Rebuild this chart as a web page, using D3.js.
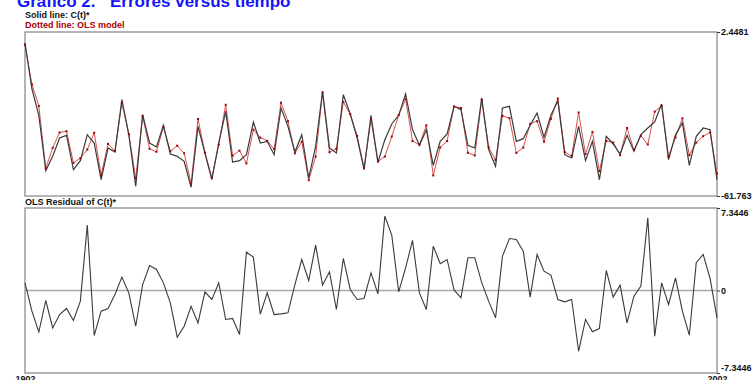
<!DOCTYPE html>
<html>
<head>
<meta charset="utf-8">
<script src="https://cdn.jsdelivr.net/npm/d3@7"></script>
<style>
  body { margin: 0; background: #fff; }
  text { font-family: "Liberation Sans", Arial, sans-serif; }
</style>
</head>
<body>
<div id="chart"></div>
<script>
// years on the x axis
var years = d3.range(1902, 2003);
var yearTicks = [1902, 2002];

// C(t)* (solid line)
var cSeries = [
  -1.86, -19.87, -30.18, -51.84, -46.23, -39.05, -38.01, -51.45, -47.92, -37.75,
  -41.01, -55.36, -42.97, -44.53, -24.04, -37.75, -57.97, -29.92, -41.01, -42.57,
  -34.09, -45.32, -46.23, -48.19, -58.36, -34.48, -44.92, -55.36, -41.01, -28.61,
  -48.45, -47.92, -45.58, -32.79, -41.01, -40.36, -45.58, -27.31, -34.48, -44.53,
  -37.75, -54.71, -42.31, -20.78, -42.97, -44.92, -22.09, -29.66, -39.05, -51.45,
  -30.18, -48.58, -39.70, -33.57, -30.18, -21.83, -35.79, -41.92, -35.79, -49.75,
  -40.36, -37.49, -26.65, -27.96, -41.92, -42.97, -23.39, -43.62, -50.14, -27.31,
  -26.65, -40.36, -39.31, -34.09, -29.26, -38.79, -30.18, -24.43, -45.58, -46.88,
  -34.48, -47.92, -40.36, -55.36, -38.40, -41.40, -45.32, -38.01, -44.27, -37.75,
  -35.14, -32.79, -25.74, -47.53, -37.75, -33.18, -49.75, -38.40, -35.14, -35.79,
  -55.36
];

// OLS model (dotted line)
var olsSeries = [
  -2.54, -18.03, -26.50, -50.95, -42.90, -36.91, -36.41, -48.78, -46.97, -43.57,
  -37.00, -53.52, -41.37, -44.17, -25.23, -37.54, -54.79, -30.45, -43.24, -44.44,
  -34.77, -44.22, -42.07, -45.01, -56.96, -31.60, -44.80, -54.56, -41.69, -26.03,
  -45.96, -44.00, -49.00, -35.76, -38.91, -40.15, -43.44, -25.23, -32.49, -45.06,
  -40.51, -55.60, -46.35, -21.26, -44.63, -43.23, -24.94, -29.75, -38.25, -50.74,
  -31.75, -48.28, -46.32, -38.50, -30.06, -23.85, -40.25, -41.71, -34.10, -53.70,
  -42.74, -40.25, -26.70, -27.31, -44.83, -45.88, -24.09, -42.67, -47.70, -30.37,
  -31.28, -44.90, -42.81, -33.50, -32.47, -40.51, -31.55, -23.63, -44.57, -46.08,
  -29.07, -45.34, -36.68, -51.97, -40.18, -40.81, -45.80, -35.13, -43.77, -38.14,
  -41.61, -28.72, -26.42, -46.28, -38.88, -31.34, -45.77, -40.87, -38.35, -36.86,
  -52.92
];

// OLS residual of C(t)*
var residSeries = [
  0.68, -1.84, -3.68, -0.89, -3.33, -2.14, -1.60, -2.67, -0.95, 5.82,
  -4.01, -1.84, -1.60, -0.36, 1.19, -0.21, -3.18, 0.53, 2.23, 1.87,
  0.68, -1.10, -4.16, -3.18, -1.40, -2.88, -0.12, -0.80, 0.68, -2.58,
  -2.49, -3.92, 3.42, 2.97, -2.10, -0.21, -2.14, -2.08, -1.99, 0.53,
  2.76, 0.89, 4.04, 0.48, 1.66, -1.69, 2.85, 0.09, -0.80, -0.71,
  1.57, -0.30, 6.62, 4.93, -0.12, 2.02, 4.46, -0.21, -1.69, 3.95,
  2.38, 2.76, 0.05, -0.65, 2.91, 2.91, 0.70, -0.95, -2.44, 3.06,
  4.63, 4.54, 3.50, -0.59, 3.21, 1.72, 1.37, -0.80, -1.01, -0.80,
  -5.41, -2.58, -3.68, -3.39, 1.78, -0.59, 0.48, -2.88, -0.50, 0.39,
  6.47, -4.07, 0.68, -1.25, 1.13, -1.84, -3.98, 2.47, 3.21, 1.07,
  -2.44
];

// axis tick values shown on the right
var topTicks = [2.4481, -61.7635];
var bottomTicks = [7.3446, 0, -7.3446];

var width = 752, height = 380;
var left = 25, right = 717;

var svg = d3.select("#chart").append("svg")
  .attr("width", width)
  .attr("height", height);

var x = d3.scaleLinear().domain([1902, 2002]).range([left, right]);
var yTop = d3.scaleLinear().domain([-61.7635, 2.4481]).range([196, 32]);
var yBot = d3.scaleLinear().domain([-7.3446, 7.3446]).range([373, 208]);

// title (cut off at the top like the original)
var title = svg.append("text")
  .attr("y", 7)
  .attr("fill", "#1414ff")
  .style("font-size", "17px")
  .style("font-weight", "bold");
title.append("tspan").attr("x", 17).text("Gráfico 2.");
title.append("tspan").attr("x", 110).text("Errores versus tiempo");

svg.append("text")
  .attr("x", 25).attr("y", 18)
  .style("font-size", "9px").style("font-weight", "bold")
  .attr("fill", "#111")
  .text("Solid line: C(t)*");
svg.append("text")
  .attr("x", 25).attr("y", 28)
  .style("font-size", "9px").style("font-weight", "bold")
  .attr("fill", "#a80000")
  .text("Dotted line: OLS model");
svg.append("text")
  .attr("x", 25).attr("y", 205)
  .style("font-size", "9px").style("font-weight", "bold")
  .attr("fill", "#111")
  .text("OLS Residual of C(t)*");

// frames
svg.append("rect")
  .attr("x", left).attr("y", yTop.range()[1])
  .attr("width", right - left).attr("height", yTop.range()[0] - yTop.range()[1])
  .attr("fill", "none").attr("stroke", "#9c9c9c").attr("stroke-width", 1.5);
svg.append("rect")
  .attr("x", left).attr("y", yBot.range()[1])
  .attr("width", right - left).attr("height", yBot.range()[0] - yBot.range()[1])
  .attr("fill", "none").attr("stroke", "#9c9c9c").attr("stroke-width", 1.5);

// zero line in residual panel
svg.append("line")
  .attr("x1", left).attr("x2", right)
  .attr("y1", yBot(0)).attr("y2", yBot(0))
  .attr("stroke", "#a8a8a8").attr("stroke-width", 1.5);

// right axes
function styleAxis(g) {
  g.select(".domain").remove();
  g.selectAll(".tick line").attr("stroke", "#333");
  g.selectAll(".tick text")
    .attr("fill", "#111")
    .style("font-size", "9px")
    .style("font-weight", "bold")
    .style("font-family", "'Liberation Sans', Arial, sans-serif");
}

svg.append("g")
  .attr("transform", "translate(" + right + ",0)")
  .call(d3.axisRight(yTop).tickValues(topTicks).tickSize(3).tickPadding(1)
    .tickFormat(function(d) { return d.toFixed(4); }))
  .call(styleAxis);

var botAxis = svg.append("g")
  .attr("transform", "translate(" + right + ",0)")
  .call(d3.axisRight(yBot).tickValues(bottomTicks).tickSize(3).tickPadding(1)
    .tickFormat(function(d) { return d === 0 ? "0" : d.toFixed(4); }))
  .call(styleAxis);
// end labels sit just inside the frame
botAxis.selectAll(".tick text")
  .attr("y", function(d) { return d > 0 ? 5 : (d < 0 ? -5 : 0); });

svg.append("g")
  .attr("transform", "translate(0,373)")
  .call(d3.axisBottom(x).tickValues(yearTicks).tickSize(0).tickPadding(3)
    .tickFormat(d3.format("d")))
  .call(styleAxis);

// top panel lines
var lineTop = function(vals) {
  return d3.line()
    .x(function(d, i) { return x(years[i]); })
    .y(function(d) { return yTop(d); })(vals);
};

svg.append("path")
  .attr("d", lineTop(olsSeries))
  .attr("fill", "none")
  .attr("stroke", "#d85050")
  .attr("stroke-width", 1);

svg.append("path")
  .attr("d", lineTop(cSeries))
  .attr("fill", "none")
  .attr("stroke", "#3a3a3a")
  .attr("stroke-width", 1.2);

svg.selectAll(".olsdot")
  .data(olsSeries)
  .enter()
  .append("rect")
  .attr("class", "olsdot")
  .attr("x", function(d, i) { return x(years[i]) - 1; })
  .attr("y", function(d) { return yTop(d) - 1; })
  .attr("width", 2).attr("height", 2)
  .attr("fill", "#a00000");

// residual line
svg.append("path")
  .attr("d", d3.line()
    .x(function(d, i) { return x(years[i]); })
    .y(function(d) { return yBot(d); })(residSeries))
  .attr("fill", "none")
  .attr("stroke", "#3a3a3a")
  .attr("stroke-width", 1.1);
</script>
</body>
</html>
